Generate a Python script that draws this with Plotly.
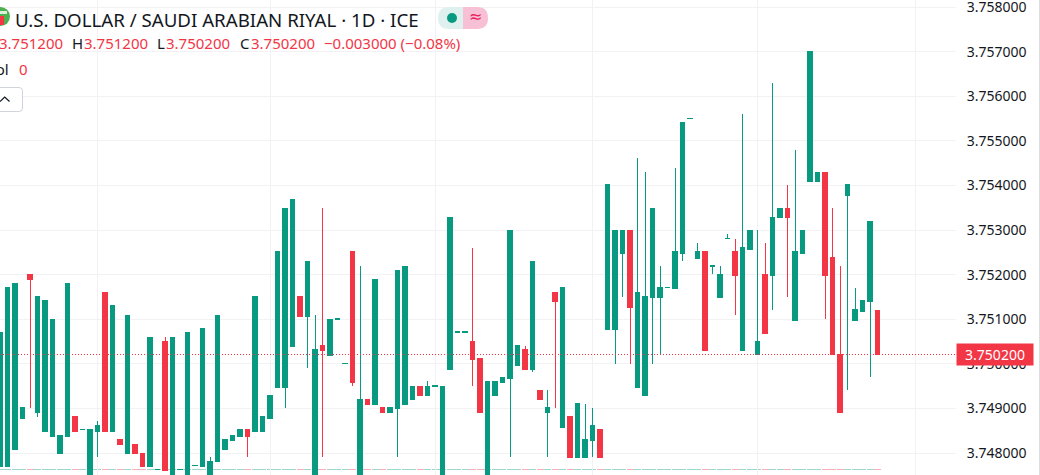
import plotly.graph_objects as go

opens = [3.74769,3.74769,3.74809,3.74878,3.75201,3.74890,3.74849,3.74838,3.74798,3.74838,
3.74881,3.74852,3.74720,3.74849,3.75161,3.74849,3.74831,3.74798,3.74820,3.74800,
3.74769,3.74762,3.75051,3.74720,3.74762,3.74720,3.74771,3.74769,3.74720,3.74780,
3.74809,3.74829,3.74838,3.74852,3.74849,3.74849,3.74878,3.74948,3.74948,3.75038,
3.75150,3.75107,3.74720,3.75040,3.75018,3.75100,3.75000,3.75251,3.74720,3.74921,
3.74908,3.74901,3.74890,3.74899,3.74908,3.74919,3.74950,3.74928,3.74950,3.74720,
3.74988,3.75071,3.75071,3.75051,3.75011,3.74720,3.74928,3.74959,3.74968,3.74997,
3.75031,3.74988,3.74941,3.74890,3.75161,3.74858,3.74881,3.74789,3.74789,3.74829,
3.74852,3.75078,3.75078,3.75248,3.75300,3.74948,3.74928,3.75148,3.75148,3.75170,
3.75168,3.75248,3.75549,3.75237,3.75251,3.75219,3.75148,3.75280,3.75251,3.75029,
3.75257,3.75020,3.75201,3.75199,3.75327,3.75349,3.75098,3.75248,3.75408,3.75408,
3.75430,3.75239,3.75020,3.75378,3.75098,3.75118,3.75139,3.75120]

highs = [3.75071,3.75170,3.75181,3.74901,3.75201,3.75150,3.75141,3.75100,3.74840,3.75181,
3.74881,3.74853,3.74852,3.74872,3.75161,3.75130,3.74831,3.75109,3.74820,3.74800,
3.75060,3.74763,3.75060,3.75060,3.74763,3.75071,3.74772,3.75080,3.74791,3.75109,
3.74831,3.74840,3.74852,3.74852,3.75150,3.74881,3.74930,3.75251,3.75349,3.75369,
3.75150,3.75230,3.75109,3.75349,3.75100,3.75101,3.75001,3.75251,3.75219,3.74921,
3.75190,3.74901,3.74901,3.75210,3.75219,3.74950,3.74950,3.74961,3.74951,3.74950,
3.75329,3.75072,3.75072,3.75260,3.75011,3.74961,3.74961,3.74970,3.75300,3.75040,
3.75040,3.75230,3.74941,3.74941,3.75161,3.75170,3.74881,3.74910,3.74910,3.74901,
3.74852,3.75401,3.75300,3.75300,3.75300,3.75461,3.75430,3.75349,3.75219,3.75171,
3.75439,3.75540,3.75550,3.75271,3.75251,3.75220,3.75219,3.75291,3.75280,3.75560,
3.75300,3.75300,3.75271,3.75630,3.75349,3.75401,3.75479,3.75300,3.75700,3.75430,
3.75430,3.75349,3.75219,3.75401,3.75170,3.75141,3.75320,3.75120]

lows = [3.74769,3.74769,3.74809,3.74878,3.74901,3.74881,3.74849,3.74838,3.74798,3.74838,
3.74849,3.74852,3.74720,3.74791,3.74849,3.74849,3.74818,3.74798,3.74798,3.74769,
3.74769,3.74762,3.74760,3.74720,3.74762,3.74720,3.74771,3.74769,3.74720,3.74780,
3.74809,3.74829,3.74838,3.74791,3.74849,3.74849,3.74878,3.74948,3.74901,3.75038,
3.75107,3.74991,3.74720,3.74791,3.75018,3.75100,3.75000,3.74950,3.74720,3.74908,
3.74908,3.74890,3.74890,3.74791,3.74908,3.74919,3.74928,3.74928,3.74950,3.74720,
3.74988,3.75071,3.75071,3.74950,3.74890,3.74720,3.74928,3.74959,3.74791,3.74997,
3.74988,3.74982,3.74919,3.74791,3.74901,3.74858,3.74789,3.74789,3.74789,3.74791,
3.74789,3.75078,3.75000,3.75150,3.75000,3.74948,3.74928,3.75000,3.75020,3.75170,
3.75168,3.75230,3.75549,3.75237,3.75029,3.75201,3.75148,3.75280,3.75109,3.75029,
3.75257,3.75020,3.75069,3.75121,3.75327,3.75150,3.75098,3.75248,3.75408,3.75408,
3.75100,3.75020,3.74890,3.74941,3.75098,3.75118,3.74970,3.75020]

closes = [3.75071,3.75170,3.75181,3.74901,3.75188,3.75150,3.75141,3.75100,3.74840,3.75181,
3.74849,3.74853,3.74852,3.74861,3.74849,3.75130,3.74818,3.75109,3.74798,3.74769,
3.75060,3.74763,3.74760,3.75060,3.74763,3.75071,3.74772,3.75080,3.74782,3.75109,
3.74831,3.74840,3.74852,3.74838,3.75150,3.74881,3.74930,3.75251,3.75349,3.75369,
3.75107,3.75230,3.75031,3.75029,3.75100,3.75101,3.75001,3.74959,3.74921,3.74908,
3.75190,3.74890,3.74901,3.75210,3.75219,3.74950,3.74928,3.74950,3.74951,3.74950,
3.75329,3.75072,3.75072,3.75009,3.74890,3.74961,3.74961,3.74970,3.75300,3.75040,
3.74988,3.75230,3.74919,3.74901,3.75139,3.75170,3.74789,3.74910,3.74831,3.74861,
3.74789,3.75401,3.75300,3.75300,3.75127,3.75161,3.75150,3.75349,3.75170,3.75171,
3.75251,3.75540,3.75550,3.75251,3.75029,3.75220,3.75201,3.75281,3.75199,3.75260,
3.75300,3.75051,3.75069,3.75329,3.75349,3.75327,3.75251,3.75300,3.75700,3.75430,
3.75199,3.75020,3.74890,3.75401,3.75121,3.75141,3.75320,3.75020]

volumes = [0] * len(opens)
candle_index = list(range(len(opens)))
price_ticks = [3.748, 3.749, 3.750, 3.751, 3.752, 3.753, 3.754, 3.755, 3.756, 3.757, 3.758]
month_starts = [13, 36, 58, 79, 101, 122]

GREEN = "#089981"
RED = "#F23645"
INK = "#131722"
FONT = "Noto Sans"
W, H = 1040, 475
PLOT_RIGHT = 956

def px(v):
    return v / W

def py(v):
    return 1 - v / H

fig = go.Figure()

dash_colors = ["rgba(8,153,129,0.4)" if c > o else "rgba(242,54,69,0.4)" for o, c in zip(opens, closes)]
fig.add_trace(go.Scatter(
    x=candle_index, y=volumes, mode="markers", yaxis="y", hoverinfo="skip", showlegend=False,
    marker=dict(symbol="line-ew", size=5, color=dash_colors, line=dict(width=1, color=dash_colors)),
))
fig.add_trace(go.Candlestick(
    x=candle_index, open=opens, high=highs, low=lows, close=closes, yaxis="y2", showlegend=False,
    whiskerwidth=0,
    increasing=dict(line=dict(color=GREEN, width=1), fillcolor=GREEN),
    decreasing=dict(line=dict(color=RED, width=1), fillcolor=RED),
))

def label(text, x, y, color=INK, size=15, anchor="left", family=FONT, **kw):
    fig.add_annotation(text=text, x=px(x), y=py(y), xref="paper", yref="paper", showarrow=False,
                       xanchor=anchor, yanchor="middle", borderpad=0, borderwidth=0,
                       font=dict(family=family, size=size, color=color), **kw)

label("U.S. DOLLAR / SAUDI ARABIAN RIYAL · 1D · ICE", 15, 19, size=18.7)
for text, x, color in [("3.751200", -1, RED), ("H", 72, INK), ("3.751200", 84, RED), ("L", 157, INK),
                       ("3.750200", 166, RED), ("C", 240, INK), ("3.750200", 251, RED),
                       ("−0.003000 (−0.08%)", 324, RED)]:
    label(text, x, 43, color=color)
label("Vol", 9, 69, anchor="right")
label("0", 19, 69, color=RED)
label("≈", 475, 17, color="#E91E63", size=16, anchor="center", family="DejaVu Sans")

fig.add_annotation(text="3.750200", x=px(995), y=closes[-1], xref="paper", yref="y2", showarrow=False,
                   xanchor="center", yanchor="middle", bgcolor=RED, width=76, height=21, borderpad=0,
                   font=dict(family=FONT, size=14, color="white"))

shapes = [
    dict(type="line", xref="paper", yref="y2", x0=0, x1=px(PLOT_RIGHT), y0=closes[-1], y1=closes[-1],
         line=dict(color=RED, width=1, dash="1px,2px")),
    dict(type="line", xref="paper", yref="paper", x0=px(1039.5), x1=px(1039.5), y0=0, y1=1,
         line=dict(color="#dcdde0", width=1)),
    # status pills
    dict(type="path", xref="paper", yref="paper", line=dict(width=0), fillcolor="#DFF1EE",
         path=f"M{px(463)},{py(7)} L{px(449)},{py(7)} Q{px(438)},{py(7)} {px(438)},{py(18)} "
              f"Q{px(438)},{py(29)} {px(449)},{py(29)} L{px(463)},{py(29)} Z"),
    dict(type="path", xref="paper", yref="paper", line=dict(width=0), fillcolor="#F8C0D4",
         path=f"M{px(463)},{py(7)} L{px(477)},{py(7)} Q{px(488)},{py(7)} {px(488)},{py(18)} "
              f"Q{px(488)},{py(29)} {px(477)},{py(29)} L{px(463)},{py(29)} Z"),
    dict(type="circle", xref="paper", yref="paper", x0=px(447), x1=px(457), y0=py(13), y1=py(23),
         line=dict(width=0), fillcolor=GREEN),
    # symbol logo
    dict(type="circle", xref="paper", yref="paper", x0=px(-9), x1=px(10), y0=py(7), y1=py(26),
         line=dict(width=0), fillcolor="#4CAF50"),
    dict(type="rect", xref="paper", yref="paper", x0=px(0), x1=px(7), y0=py(11), y1=py(14),
         line=dict(width=0), fillcolor="#D9F0DA"),
    dict(type="rect", xref="paper", yref="paper", x0=px(0), x1=px(4), y0=py(16), y1=py(25),
         line=dict(width=0), fillcolor="#F23645"),
    # collapse button
    dict(type="path", xref="paper", yref="paper", line=dict(color="#D1D4DC", width=1), fillcolor="white",
         path=f"M{px(-4)},{py(87.5)} L{px(19)},{py(87.5)} Q{px(22.5)},{py(87.5)} {px(22.5)},{py(91)} "
              f"L{px(22.5)},{py(108)} Q{px(22.5)},{py(111.5)} {px(19)},{py(111.5)} L{px(-4)},{py(111.5)} Z"),
    dict(type="path", xref="paper", yref="paper", line=dict(color=INK, width=1.2),
         path=f"M{px(0)},{py(101.5)} L{px(4.7)},{py(97)} L{px(9.5)},{py(101.5)}"),
]

fig.update_layout(
    width=W, height=H, autosize=False,
    margin=dict(l=0, r=0, t=0, b=0, pad=0, autoexpand=False),
    paper_bgcolor="white", plot_bgcolor="rgba(0,0,0,0)",
    boxgap=0.45, boxgroupgap=0,
    shapes=shapes, showlegend=False,
    xaxis=dict(domain=[0, PLOT_RIGHT / W], range=[0, PLOT_RIGHT / 7.5], rangeslider=dict(visible=False),
               automargin=False,
               tickmode="array", tickvals=month_starts, showticklabels=False, ticks="",
               showgrid=True, gridcolor="#F2F2F4", gridwidth=1, zeroline=False, showline=False),
    yaxis=dict(domain=[0, 2 * 5.5 / H], range=[-1, 1], visible=False, fixedrange=True, automargin=False),
    yaxis2=dict(domain=[0, 1], range=[3.747507, 3.758157], side="right", anchor="x", automargin=False,
                tickmode="array", tickvals=price_ticks, tickformat=".6f",
                ticks="outside", ticklen=7, tickcolor="rgba(0,0,0,0)", ticklabeloverflow="allow",
                tickfont=dict(family=FONT, size=14, color=INK),
                showgrid=True, gridcolor="#F2F2F4", gridwidth=1, zeroline=False, showline=False),
)

post = """
document.body.style.margin='0';document.body.style.overflow='hidden';
document.querySelectorAll('.boxes path, .points path').forEach(function(p){p.style.shapeRendering='crispEdges';});
document.querySelectorAll('.shapelayer path').forEach(function(p){if(p.style.strokeDasharray){p.style.shapeRendering='crispEdges';}});
"""
fig.write_html("out.html", config={"displayModeBar": False}, post_script=post)
